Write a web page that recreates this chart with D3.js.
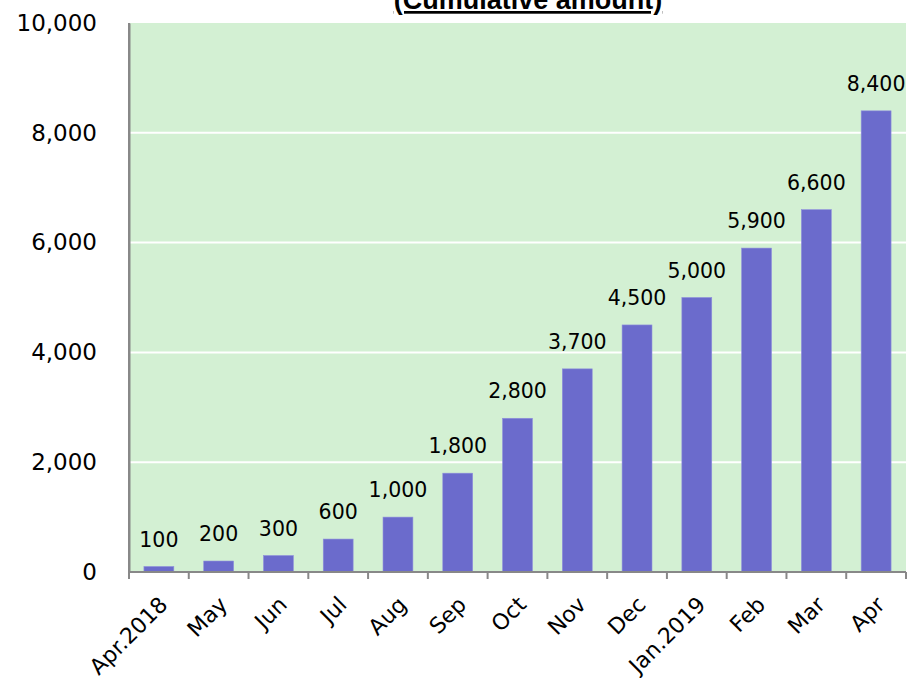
<!DOCTYPE html>
<html><head><meta charset="utf-8">
<script src="https://cdn.jsdelivr.net/npm/d3@7"></script>
<style>body{margin:0;background:#fff}</style>
</head><body>
<svg id="c" width="908" height="678"></svg>
<script>
const categories = ["Apr.2018","May","Jun","Jul","Aug","Sep","Oct","Nov","Dec","Jan.2019","Feb","Mar","Apr"];
const values = [100,200,300,600,1000,1800,2800,3700,4500,5000,5900,6600,8400];
const yTicks = [0,2000,4000,6000,8000,10000];
const title = "(Cumulative amount)";

const svg = d3.select("#c");
const m = {l:129, r:906, t:23, b:572};
const x = d3.scaleBand().domain(categories).range([m.l, m.r]).paddingInner(0.5).paddingOuter(0.25);
const xt = d3.scaleBand().domain(categories).range([m.l, m.r]);
const y = d3.scaleLinear().domain([0,10000]).range([m.b, m.t]);
const font = "DejaVu Sans, Verdana, sans-serif";

svg.append("rect").attr("x",m.l).attr("y",m.t).attr("width",m.r-m.l).attr("height",m.b-m.t).attr("fill","#d3f0d3");

svg.append("g").selectAll("line").data(yTicks.filter(d=>d>0 && d<10000)).join("line")
  .attr("x1",m.l).attr("x2",m.r).attr("y1",d=>y(d)).attr("y2",d=>y(d))
  .attr("stroke","#fff").attr("stroke-width",2);

svg.append("g").selectAll("rect").data(values).join("rect")
  .attr("x",(d,i)=>x(categories[i])).attr("width",x.bandwidth())
  .attr("y",d=>y(d)).attr("height",d=>m.b-y(d))
  .attr("fill","#6b6bcc").attr("stroke","#8f8fdc").attr("stroke-width",0.6);

svg.append("g").selectAll("text").data(values).join("text")
  .attr("x",(d,i)=>x(categories[i])+x.bandwidth()/2).attr("y",d=>y(d)-20)
  .attr("text-anchor","middle").attr("font-family",font).attr("font-size",20.5).attr("fill","#000")
  .text(d=>d3.format(",")(d));

// axes
const fmt = d3.format(",");
const ya = svg.append("g").attr("transform",`translate(${m.l},0)`)
  .call(d3.axisLeft(y).tickValues(yTicks).tickFormat(fmt).tickSize(0).tickPadding(32));
ya.select(".domain").attr("stroke","#888").attr("stroke-width",2);
ya.selectAll("text").attr("font-family",font).attr("font-size",23).attr("fill","#000");
ya.append("line").attr("x1",0).attr("x2",0).attr("y1",m.t).attr("y2",m.b).attr("stroke","#888").attr("stroke-width",2);

const xa = svg.append("g").attr("transform",`translate(0,${m.b})`);
const tickPos = categories.map(c=>xt(c)).concat([m.r]);
xa.append("line").attr("x1",m.l).attr("x2",m.r).attr("stroke","#888").attr("stroke-width",2);
xa.selectAll("line.t").data(tickPos).join("line").attr("class","t")
  .attr("x1",d=>d).attr("x2",d=>d).attr("y1",0).attr("y2",7).attr("stroke","#888").attr("stroke-width",2);
xa.selectAll("text").data(categories).join("text")
  .attr("transform",c=>`translate(${x(c)+x.bandwidth()/2+10},${34}) rotate(-45)`)
  .attr("text-anchor","end").attr("font-family",font).attr("font-size",22).attr("fill","#000")
  .text(c=>c);

svg.append("text").attr("x",528).attr("y",9).attr("text-anchor","middle")
  .attr("font-family","Liberation Sans, Arial, sans-serif").attr("font-weight","bold").attr("font-size",27)
  .attr("text-decoration","underline").text(title);
</script>
</body></html>
